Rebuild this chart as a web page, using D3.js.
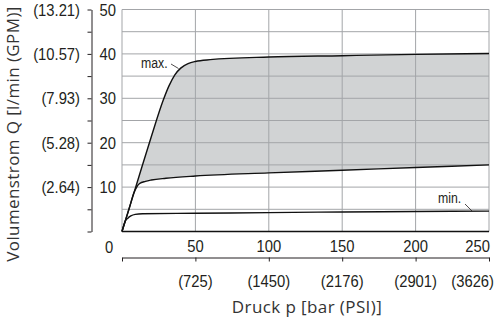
<!DOCTYPE html>
<html>
<head>
<meta charset="utf-8">
<script src="https://cdn.jsdelivr.net/npm/d3@7"></script>
<style>
  body { margin: 0; background: #fff; }
  svg { display: block; }
  .tick-lbl { font-family: "Liberation Sans", Arial, sans-serif; font-size: 17px; fill: #231f20; }
  .note { font-family: "Liberation Sans", Arial, sans-serif; font-size: 15px; fill: #231f20; }
  .title { font-family: "Open Sans", sans-serif; font-size: 17px; fill: #333; letter-spacing: 0.4px; }
</style>
</head>
<body>
<div id="chart"></div>
<script>
// pressure in bar, flow in l/min
var maxPressure = [0, 10, 20, 28, 32, 36, 40, 45, 50, 60, 100, 150, 200, 250];
var maxFlow     = [0, 10.7, 21.4, 29.5, 32.8, 35.3, 36.8, 37.8, 38.3, 38.7, 39.3, 39.6, 39.9, 40.1];

var midPressure = [0, 5, 8, 10, 12, 16, 20, 30, 50, 100, 150, 200, 250];
var midFlow     = [0, 5.3, 8.6, 10.0, 10.8, 11.3, 11.6, 12.0, 12.5, 13.2, 13.8, 14.4, 15.0];

var minPressure = [0, 1, 2, 4, 6, 9, 14, 50, 100, 150, 200, 250];
var minFlow     = [0, 1.2, 2.2, 3.0, 3.5, 3.85, 4.0, 4.1, 4.25, 4.4, 4.5, 4.6];

var barTicks = [50, 100, 150, 200, 250];
var psiLabels = ["(725)", "(1450)", "(2176)", "(2901)", "(3626)"];
var flowTicks = [10, 20, 30, 40, 50];
var gpmLabels = ["(2.64)", "(5.28)", "(7.93)", "(10.57)", "(13.21)"];

var width = 496, height = 320;
var plotL = 122, plotR = 489, plotT = 9.5, plotB = 231.5;
var squeeze = 0.87; // condensed look for the numbers

var svg = d3.select('#chart').append('svg')
  .attr('width', width)
  .attr('height', height);

var x = d3.scaleLinear().domain([0, 250]).range([plotL, plotR]);
var y = d3.scaleLinear().domain([0, 50]).range([plotB, plotT]);

var zip = function(a, b) { return a.map(function(v, i) { return [v, b[i]]; }); };
var maxPts = zip(maxPressure, maxFlow);
var midPts = zip(midPressure, midFlow);
var minPts = zip(minPressure, minFlow);

var line = d3.line()
  .x(function(d) { return x(d[0]); })
  .y(function(d) { return y(d[1]); })
  .curve(d3.curveMonotoneX);

function label(cls, px, py, anchor, txt, sx) {
  return svg.append('text')
    .attr('class', cls)
    .attr('transform', 'translate(' + px + ',' + py + ') scale(' + (sx || squeeze) + ',1)')
    .attr('text-anchor', anchor)
    .text(txt);
}

// grey band between max and middle curve
var band = line(maxPts) + line(midPts.slice().reverse()).replace('M', 'L') + 'Z';
svg.append('path')
  .attr('d', band)
  .attr('fill', '#d1d3d4');

// grid
var grid = svg.append('g').attr('stroke', '#a3a5a8').attr('stroke-width', 1);
grid.selectAll('line.h')
  .data(d3.range(5, 51, 5))
  .enter().append('line')
  .attr('x1', plotL).attr('x2', plotR)
  .attr('y1', function(d) { return y(d); })
  .attr('y2', function(d) { return y(d); });
grid.selectAll('line.v')
  .data([0].concat(barTicks))
  .enter().append('line')
  .attr('y1', plotT).attr('y2', plotB)
  .attr('x1', function(d) { return x(d); })
  .attr('x2', function(d) { return x(d); });

// base line
svg.append('line')
  .attr('x1', plotL).attr('x2', plotR)
  .attr('y1', y(0)).attr('y2', y(0))
  .attr('stroke', '#111').attr('stroke-width', 1.3);

// curves
[maxPts, midPts, minPts].forEach(function(pts) {
  svg.append('path')
    .attr('d', line(pts))
    .attr('fill', 'none')
    .attr('stroke', '#111')
    .attr('stroke-width', 1.4);
});

// left axis (ticks only)
var yAxis = svg.append('g')
  .attr('transform', 'translate(91.5,0)')
  .call(d3.axisLeft(y).tickValues(d3.range(0, 51, 5)).tickSize(4).tickSizeOuter(0).tickFormat(''));
yAxis.selectAll('path, line').attr('stroke', '#231f20');

flowTicks.forEach(function(d, i) {
  label('tick-lbl', 116, y(d) + 6, 'end', d);
  label('tick-lbl', 80, y(d) + 6, 'end', gpmLabels[i]);
});
label('tick-lbl', 109, 253, 'middle', '0');

// bottom axis (ticks only)
var xAxis = svg.append('g')
  .attr('transform', 'translate(0,257.5)')
  .call(d3.axisBottom(x).tickValues([0].concat(barTicks)).tickSize(4).tickSizeOuter(0).tickFormat(''));
xAxis.selectAll('path, line').attr('stroke', '#231f20');

barTicks.forEach(function(d, i) {
  var last = i === barTicks.length - 1;
  label('tick-lbl', last ? 490 : x(d), 252, last ? 'end' : 'middle', d);
  label('tick-lbl', last ? 494 : x(d), 287, last ? 'end' : 'middle', psiLabels[i]);
});

// curve notes
label('note', 141, 68, 'start', 'max.', 0.82);
svg.append('line')
  .attr('x1', 171).attr('y1', 64).attr('x2', 178.5).attr('y2', 68.5)
  .attr('stroke', '#231f20').attr('stroke-width', 0.8);
label('note', 438, 203, 'start', 'min.', 0.82);
svg.append('line')
  .attr('x1', 465).attr('y1', 204).attr('x2', 472).attr('y2', 211)
  .attr('stroke', '#231f20').attr('stroke-width', 0.8);

// titles
svg.append('text')
  .attr('class', 'title')
  .attr('x', 307)
  .attr('y', 313)
  .attr('text-anchor', 'middle')
  .text('Druck p [bar (PSI)]');

svg.append('text')
  .attr('class', 'title')
  .attr('transform', 'translate(19,134) rotate(-90)')
  .attr('text-anchor', 'middle')
  .text('Volumenstrom Q [l/min (GPM)]');
</script>
</body>
</html>
